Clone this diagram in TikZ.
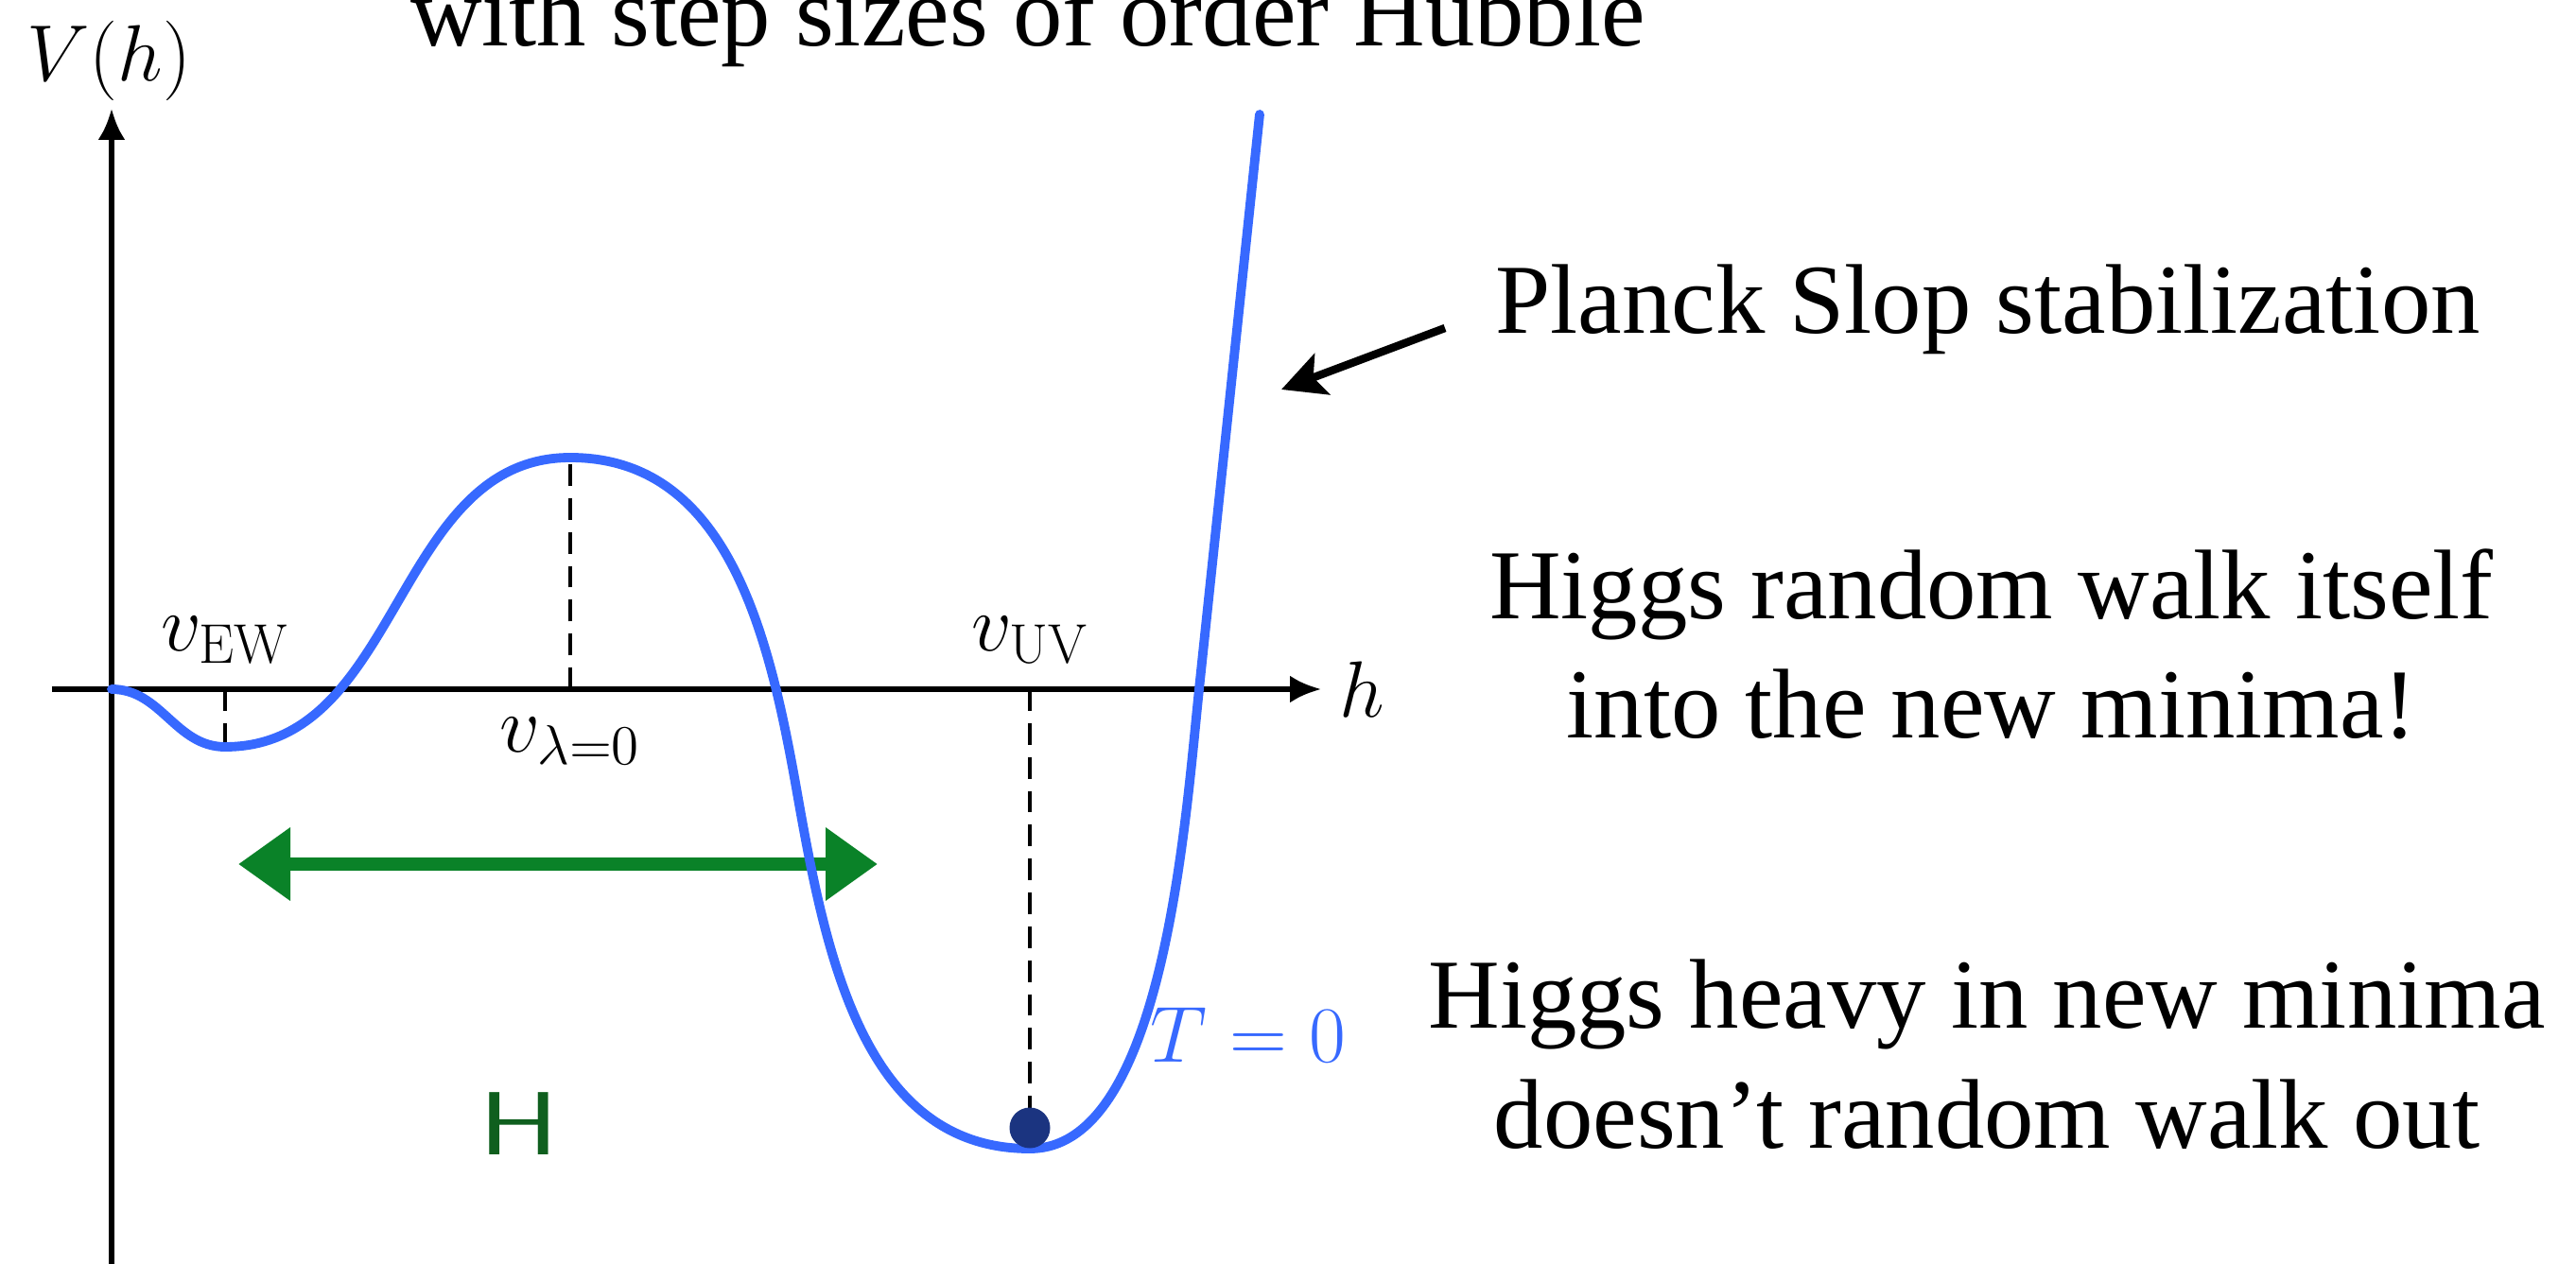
\RequirePackage{fix-cm}
\documentclass[tikz,border=0pt]{standalone}
\usepackage{fontspec}
\newfontfamily\notefont{Liberation Serif}
\usetikzlibrary{arrows.meta, positioning}

\definecolor{potblue}{RGB}{55,105,255}
\definecolor{walkgreen}{RGB}{10,130,40}
\definecolor{hgreen}{RGB}{15,95,30}
\definecolor{dotblue}{RGB}{27,52,128}

\begin{document}
\begin{tikzpicture}[
    font=\fontsize{24}{28}\selectfont,
    axis/.style={line width=1.7pt, -{Latex[length=3.3mm,width=2.9mm]}},
    potential/.style={potblue, line width=2.8pt, line cap=round},
    guide/.style={line width=0.95pt, dash pattern=on 6.5pt off 3.7pt},
    pointer/.style={line width=2.4pt, -{Stealth[length=4.6mm,width=4.6mm,inset=1mm]}},
    walk/.style={walkgreen, line width=4pt, {Triangle[length=5.5mm,width=7.4mm]}-{Triangle[length=5.5mm,width=7.4mm]}},
    note/.style={font=\notefont\fontsize{29.8}{36}\selectfont, align=center, anchor=base},
  ]
  \clip (-1.18,-6.07) rectangle (26.06,7.29);

  % axes
  \draw[axis] (-0.63,0) -- (12.79,0);
  \draw[axis] (0,-6.2) -- (0,6.14);
  \node (hlab) at (13.22,0) {$h$};
  \node (vlab) at (-0.03,6.65) {$V(h)$};

  % special points on the potential
  \coordinate (origin) at (0,0);
  \coordinate (ewmin) at (1.20,-0.61);
  \coordinate (hill) at (4.85,2.45);
  \coordinate (drop) at (7.25,-1.10);
  \coordinate (uvmin) at (9.71,-4.86);
  \coordinate (cross) at (11.50,0);
  \coordinate (wall) at (12.14,6.08);

  % random walk of the Higgs
  \coordinate (walkL) at (1.34,-1.85);
  \coordinate (walkR) at (8.10,-1.85);
  \draw[walk] (walkL) -- (walkR);
  \node[text=hgreen, font=\sffamily\fontsize{27}{32}\selectfont] (higgsH) at (4.31,-4.60) {\scalebox{1.35}[1]{H}};

  % guides down to the extrema
  \draw[guide] (ewmin |- origin) -- (ewmin);
  \draw[guide] (hill |- origin) -- (hill);
  \draw[guide] (uvmin |- origin) -- (uvmin);

  \draw[potential] (origin) to[out=0, in=180] (ewmin)
    to[out=0, in=180] (hill)
    to[out=0, in=100] (drop)
    to[out=-80, in=180] (uvmin)
    to[out=0, in=264, looseness=0.7] (cross)
    -- (wall);

  \node[circle, fill=dotblue, inner sep=0pt, minimum size=4.3mm] (ball) at (9.71,-4.64) {};

  \node (vew) at (1.20,0.52) {$v_{\rm EW}$};
  \node (vlam) at (4.85,-0.55) {$v_{\lambda=0}$};
  \node (vuv) at (9.71,0.52) {$v_{\rm UV}$};
  \node[text=potblue] (tzero) at (12.02,-3.66) {$T=0$};

  % side remarks
  \node[note] (hubble) at (9.69,6.80) {with step sizes of order Hubble};
  \node[note] (planck) at (19.84,3.76) {Planck Slop stabilization};
  \node[note] (itself) at (19.88,-0.52) {Higgs random walk itself\\into the new minima!};
  \node[note] (heavy) at (19.83,-4.85) {Higgs heavy in new minima\\doesn’t random walk out};

  \coordinate (slopetail) at (14.10,3.82);
  \coordinate (slopetip) at (12.37,3.17);
  \draw[pointer] (slopetail) -- (slopetip);
\end{tikzpicture}
\end{document}
